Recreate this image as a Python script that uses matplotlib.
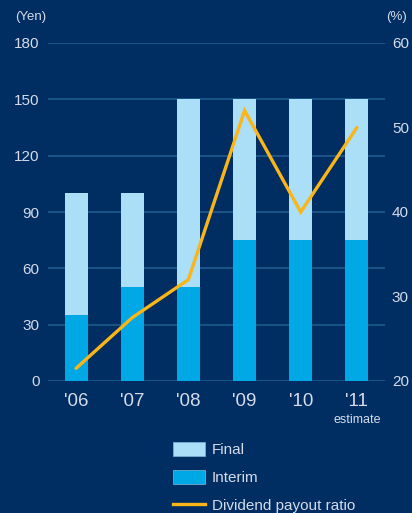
import matplotlib.pyplot as plt
import numpy as np
from matplotlib.patches import Patch
from matplotlib.lines import Line2D

plt.rcParams['font.family'] = ['Liberation Sans', 'DejaVu Sans']

years = ["'06", "'07", "'08", "'09", "'10", "'11"]
interim = [35, 50, 50, 75, 75, 75]
final = [65, 50, 100, 75, 75, 75]
payout_ratio = [21.5, 27.5, 32, 52, 40, 50]

bg = '#002d62'
grid_c = '#1f5c91'
text_c = '#d4dcea'
final_c = '#abdff8'
interim_c = '#00a9e6'
line_c = '#fbb516'

fig = plt.figure(figsize=(4.12, 5.13), dpi=100, facecolor=bg)
ax = fig.add_axes([48 / 412, 132 / 513, 337 / 412, 338 / 513])
ax.set_facecolor(bg)

x = np.arange(len(years))
ax.bar(x, interim, width=0.41, color=interim_c, zorder=2)
ax.bar(x, final, width=0.41, bottom=interim, color=final_c, zorder=2)

ax.set_xlim(-0.5, 5.5)
ax.set_ylim(0, 180)
ax.set_yticks(range(0, 181, 30))
ax.yaxis.grid(True, color=grid_c, linewidth=1.2, zorder=0)
ax.set_axisbelow(True)
for s in ax.spines.values():
    s.set_visible(False)
ax.tick_params(axis='y', length=0, pad=6, labelsize=11, labelcolor=text_c)
ax.set_xticks(x)
ax.set_xticklabels(years)
ax.tick_params(axis='x', length=0, pad=9, labelsize=13.5, labelcolor=text_c)

ax2 = ax.twinx()
ax2.set_ylim(20, 60)
ax2.set_yticks(range(20, 61, 10))
for s in ax2.spines.values():
    s.set_visible(False)
ax2.tick_params(axis='y', length=0, pad=5, labelsize=11, labelcolor=text_c)
ax2.plot(x, payout_ratio, color=line_c, linewidth=2.4, solid_capstyle='round',
         solid_joinstyle='miter', zorder=3)

fig.text(15 / 412, 1 - 17 / 513, '(Yen)', color=text_c, fontsize=9.5, va='center', ha='left')
fig.text(407 / 412, 1 - 17 / 513, '(%)', color=text_c, fontsize=9.5, va='center', ha='right')
ax.text(5, -0.115, 'estimate', transform=ax.get_xaxis_transform(), color=text_c,
        fontsize=9, ha='center', va='center')

handles = [Patch(facecolor=final_c, edgecolor='#7fb8d8', linewidth=0.5),
           Patch(facecolor=interim_c, edgecolor='#7fb8d8', linewidth=0.5),
           Line2D([0], [0], color=line_c, linewidth=2.4)]
leg = fig.legend(handles, ['Final', 'Interim', 'Dividend payout ratio'],
                 loc='upper left', bbox_to_anchor=(167 / 412, 1 - 436 / 513),
                 frameon=False, fontsize=11, labelcolor=text_c,
                 handlelength=2.1, handleheight=1.05, handletextpad=0.45,
                 labelspacing=0.82, borderaxespad=0)

fig.savefig('out.png', dpi=100, facecolor=bg)
